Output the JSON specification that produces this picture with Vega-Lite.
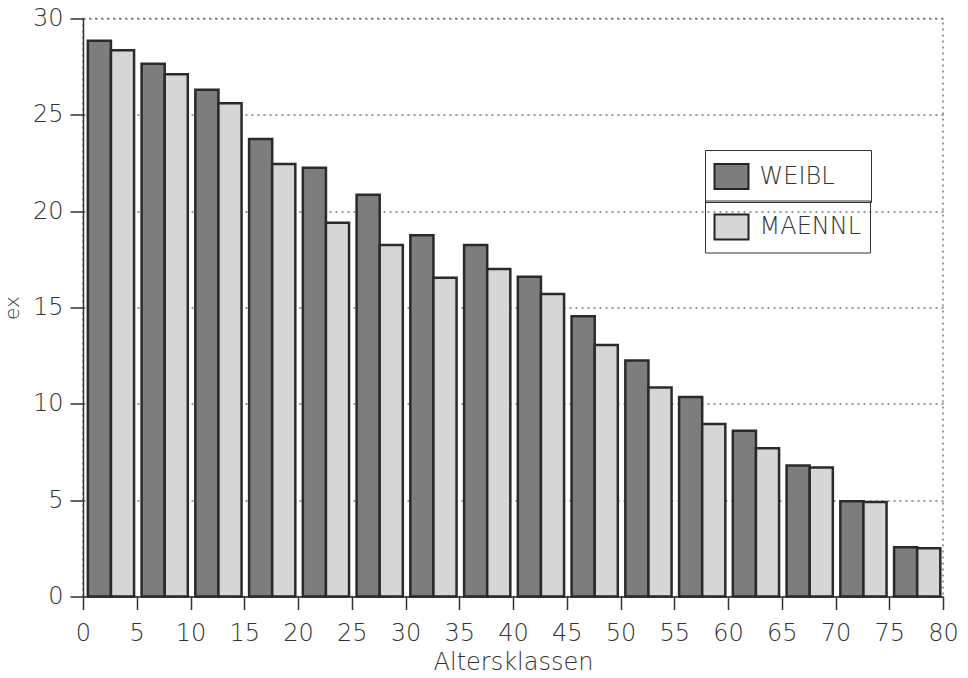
{
  "$schema": "https://vega.github.io/schema/vega-lite/v6.json",
  "width": 860,
  "height": 578,
  "autosize": {"type": "none"},
  "padding": {"left": 83, "top": 18.5, "right": 25, "bottom": 81.5},
  "background": "white",
  "data": {
    "values": [
      {"Alter": 0, "Geschlecht": "WEIBL", "ex": 28.85},
      {"Alter": 0, "Geschlecht": "MAENNL", "ex": 28.35},
      {"Alter": 5, "Geschlecht": "WEIBL", "ex": 27.65},
      {"Alter": 5, "Geschlecht": "MAENNL", "ex": 27.1},
      {"Alter": 10, "Geschlecht": "WEIBL", "ex": 26.3},
      {"Alter": 10, "Geschlecht": "MAENNL", "ex": 25.6},
      {"Alter": 15, "Geschlecht": "WEIBL", "ex": 23.75},
      {"Alter": 15, "Geschlecht": "MAENNL", "ex": 22.45},
      {"Alter": 20, "Geschlecht": "WEIBL", "ex": 22.25},
      {"Alter": 20, "Geschlecht": "MAENNL", "ex": 19.4},
      {"Alter": 25, "Geschlecht": "WEIBL", "ex": 20.85},
      {"Alter": 25, "Geschlecht": "MAENNL", "ex": 18.25},
      {"Alter": 30, "Geschlecht": "WEIBL", "ex": 18.75},
      {"Alter": 30, "Geschlecht": "MAENNL", "ex": 16.55},
      {"Alter": 35, "Geschlecht": "WEIBL", "ex": 18.25},
      {"Alter": 35, "Geschlecht": "MAENNL", "ex": 17.0},
      {"Alter": 40, "Geschlecht": "WEIBL", "ex": 16.6},
      {"Alter": 40, "Geschlecht": "MAENNL", "ex": 15.7},
      {"Alter": 45, "Geschlecht": "WEIBL", "ex": 14.55},
      {"Alter": 45, "Geschlecht": "MAENNL", "ex": 13.05},
      {"Alter": 50, "Geschlecht": "WEIBL", "ex": 12.25},
      {"Alter": 50, "Geschlecht": "MAENNL", "ex": 10.85},
      {"Alter": 55, "Geschlecht": "WEIBL", "ex": 10.35},
      {"Alter": 55, "Geschlecht": "MAENNL", "ex": 8.95},
      {"Alter": 60, "Geschlecht": "WEIBL", "ex": 8.6},
      {"Alter": 60, "Geschlecht": "MAENNL", "ex": 7.7},
      {"Alter": 65, "Geschlecht": "WEIBL", "ex": 6.8},
      {"Alter": 65, "Geschlecht": "MAENNL", "ex": 6.7},
      {"Alter": 70, "Geschlecht": "WEIBL", "ex": 4.95},
      {"Alter": 70, "Geschlecht": "MAENNL", "ex": 4.9},
      {"Alter": 75, "Geschlecht": "WEIBL", "ex": 2.55},
      {"Alter": 75, "Geschlecht": "MAENNL", "ex": 2.5}
    ]
  },
  "layer": [
    {
      "transform": [
        {"filter": "datum.Geschlecht == 'WEIBL'"},
        {"calculate": "datum.Alter + 0.45", "as": "x0"},
        {"calculate": "datum.Alter + 2.6", "as": "x1"}
      ],
      "mark": {"type": "bar", "stroke": "#2a2a2a", "strokeWidth": 2.5},
      "encoding": {
        "x": {
          "field": "x0", "type": "quantitative",
          "scale": {"domain": [0, 80], "nice": false, "zero": false},
          "axis": {"title": "Altersklassen", "values": [0,5,10,15,20,25,30,35,40,45,50,55,60,65,70,75,80], "grid": false, "tickSize": 13, "labelPadding": 12, "titlePadding": 5, "labelFlush": false, "labelOverlap": false}
        },
        "x2": {"field": "x1"},
        "y": {
          "field": "ex", "type": "quantitative",
          "scale": {"domain": [0, 30], "nice": false, "padding": 0},
          "axis": {"title": "ex", "values": [0,5,10,15,20,25,30], "grid": true, "tickSize": 13, "labelPadding": 7, "titlePadding": 10, "titleFontSize": 20}
        },
        "y2": {"datum": 0},
        "fill": {
          "field": "Geschlecht", "type": "nominal",
          "scale": {"domain": ["WEIBL"], "range": ["#7d7d7d"]},
          "legend": {"orient": "none", "legendX": 622, "legendY": 131.5, "title": null, "symbolType": "M-1,-0.735H1V0.735H-1Z", "symbolSize": 1156, "symbolStrokeColor": "#222", "symbolStrokeWidth": 2, "labelOffset": 10, "padding": 8.5, "strokeColor": "#333", "labelExpr": "datum.label + '\u00a0\u00a0\u00a0\u2009\u200b'"}
        }
      }
    },
    {
      "transform": [
        {"filter": "datum.Geschlecht == 'MAENNL'"},
        {"calculate": "datum.Alter + 2.6", "as": "x0"},
        {"calculate": "datum.Alter + 4.75", "as": "x1"}
      ],
      "mark": {"type": "bar", "stroke": "#2a2a2a", "strokeWidth": 2.5},
      "encoding": {
        "x": {
          "field": "x0", "type": "quantitative",
          "scale": {"domain": [0, 80], "nice": false, "zero": false},
          "axis": {"title": "Altersklassen", "values": [0,5,10,15,20,25,30,35,40,45,50,55,60,65,70,75,80], "grid": false, "tickSize": 13, "labelPadding": 12, "titlePadding": 5, "labelFlush": false, "labelOverlap": false}
        },
        "x2": {"field": "x1"},
        "y": {
          "field": "ex", "type": "quantitative",
          "scale": {"domain": [0, 30], "nice": false, "padding": 0},
          "axis": {"title": "ex", "values": [0,5,10,15,20,25,30], "grid": true, "tickSize": 13, "labelPadding": 7, "titlePadding": 10, "titleFontSize": 20}
        },
        "y2": {"datum": 0},
        "fill": {
          "field": "Geschlecht", "type": "nominal",
          "scale": {"domain": ["MAENNL"], "range": ["#d6d6d6"]},
          "legend": {"orient": "none", "legendX": 622, "legendY": 182, "title": null, "symbolType": "M-1,-0.735H1V0.735H-1Z", "symbolSize": 1156, "symbolStrokeColor": "#222", "symbolStrokeWidth": 2, "labelOffset": 10, "padding": 8.5, "strokeColor": "#333"}
        }
      }
    }
  ],
  "resolve": {"scale": {"fill": "independent"}, "legend": {"fill": "independent"}},
  "config": {
    "font": "DejaVu Sans",
    "view": {"stroke": "#777", "strokeDash": [2, 4], "strokeWidth": 1.5},
    "axis": {
      "labelFont": "DejaVu Sans", "labelFontSize": 24, "labelColor": "#333", "labelFontWeight": 200,
      "titleFont": "DejaVu Sans", "titleFontSize": 24, "titleFontWeight": 200, "titleColor": "#333",
      "domainColor": "#333", "domainWidth": 1.5, "tickColor": "#333", "tickWidth": 1.5,
      "gridColor": "#777", "gridDash": [2, 4], "gridWidth": 1.5
    },
    "legend": {"labelFont": "DejaVu Sans", "labelFontSize": 24, "labelColor": "#333", "labelFontWeight": 200}
  }
}
